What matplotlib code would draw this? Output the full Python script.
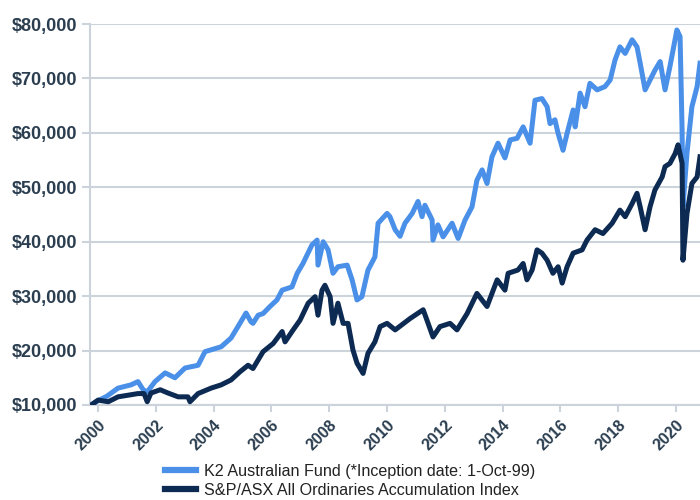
import matplotlib
matplotlib.use("Agg")
import matplotlib.pyplot as plt
from matplotlib.ticker import FuncFormatter

# K2 Australian Fund (decimal year, value $)
k2_years = [1999.75, 2000.00, 2000.30, 2000.69, 2001.14, 2001.38, 2001.56, 2001.70, 2001.97, 2002.32,
            2002.66, 2003.01, 2003.46, 2003.70, 2004.26, 2004.60, 2004.84, 2005.12, 2005.29, 2005.36,
            2005.54, 2005.71, 2005.95, 2006.19, 2006.37, 2006.71, 2006.89, 2007.09, 2007.40, 2007.58,
            2007.61, 2007.79, 2007.96, 2008.13, 2008.30, 2008.62, 2008.79, 2008.96, 2009.13, 2009.34,
            2009.58, 2009.69, 2010.00, 2010.10, 2010.28, 2010.45, 2010.62, 2010.87, 2011.07, 2011.21,
            2011.31, 2011.56, 2011.59, 2011.76, 2011.94, 2012.25, 2012.46, 2012.70, 2012.94, 2013.11,
            2013.29, 2013.46, 2013.63, 2013.84, 2014.08, 2014.26, 2014.50, 2014.71, 2014.95, 2015.12,
            2015.36, 2015.54, 2015.64, 2015.81, 2015.92, 2016.09, 2016.23, 2016.44, 2016.51, 2016.68,
            2016.85, 2017.02, 2017.27, 2017.54, 2017.72, 2017.89, 2018.06, 2018.24, 2018.48, 2018.65,
            2018.76, 2018.93, 2019.10, 2019.27, 2019.45, 2019.62, 2019.79, 2020.03, 2020.14, 2020.21,
            2020.24, 2020.38, 2020.55, 2020.73, 2020.83]
k2_values = [10000, 10800, 11600, 13100, 13700, 14300, 12800, 12400, 14300, 15900,
             15000, 16800, 17300, 19800, 20700, 22300, 24400, 26900, 25300, 25000,
             26500, 26800, 28100, 29300, 31100, 31700, 34200, 36000, 39400, 40300,
             35700, 40000, 38500, 34200, 35400, 35700, 33000, 29300, 29900, 34800,
             37200, 43400, 45200, 44600, 42200, 41000, 43400, 45200, 47400, 44600,
             46700, 44000, 40300, 43100, 40900, 43400, 40600, 44000, 46400, 51300,
             53200, 50700, 55600, 58100, 55400, 58700, 59000, 61100, 58100, 66000,
             66300, 64800, 61700, 62400, 59900, 56800, 59900, 64200, 61100, 67300,
             64800, 69100, 67900, 68500, 69700, 73400, 75800, 74600, 77100, 75800,
             72800, 67900, 69700, 71500, 73100, 67900, 72200, 78900, 77700, 60500,
             46400, 56300, 64800, 68500, 72800]

# S&P/ASX All Ordinaries Accumulation Index
ix_years = [1999.76, 2000.00, 2000.35, 2000.69, 2001.04, 2001.38, 2001.59, 2001.70, 2001.83, 2002.15,
            2002.42, 2002.77, 2003.11, 2003.18, 2003.46, 2003.91, 2004.26, 2004.60, 2004.91, 2005.19,
            2005.36, 2005.54, 2005.71, 2006.06, 2006.37, 2006.47, 2006.75, 2006.99, 2007.27, 2007.51,
            2007.61, 2007.75, 2007.85, 2008.03, 2008.13, 2008.30, 2008.48, 2008.65, 2008.82, 2008.96,
            2009.17, 2009.34, 2009.58, 2009.76, 2010.00, 2010.28, 2010.80, 2011.25, 2011.38, 2011.59,
            2011.83, 2012.18, 2012.42, 2012.77, 2013.11, 2013.46, 2013.81, 2014.08, 2014.19, 2014.53,
            2014.71, 2014.84, 2015.02, 2015.19, 2015.36, 2015.54, 2015.74, 2015.92, 2016.06, 2016.23,
            2016.44, 2016.75, 2016.92, 2017.20, 2017.47, 2017.79, 2018.06, 2018.24, 2018.48, 2018.65,
            2018.76, 2018.93, 2019.10, 2019.27, 2019.52, 2019.62, 2019.79, 2019.97, 2020.07, 2020.21,
            2020.24, 2020.38, 2020.55, 2020.73, 2020.83]
ix_values = [10000, 10900, 10600, 11500, 11800, 12100, 12100, 10600, 12200, 12800,
             12200, 11500, 11500, 10600, 12100, 13100, 13700, 14600, 16100, 17300,
             16700, 18300, 19800, 21300, 23500, 21600, 23800, 25600, 28700, 29900,
             26500, 31100, 32000, 29900, 25000, 28700, 25000, 25000, 20100, 17700,
             15800, 19500, 21600, 24400, 25000, 23800, 25900, 27500, 25600, 22500,
             24400, 25000, 23800, 26800, 30500, 28100, 33000, 31100, 34200, 34800,
             36000, 33000, 34800, 38500, 37900, 36600, 34200, 35400, 32400, 35400,
             37900, 38500, 40300, 42200, 41500, 43400, 45800, 44600, 47000, 48900,
             46400, 42200, 46400, 49500, 51900, 53800, 54400, 56200, 57800, 54400,
             36600, 45200, 50700, 51900, 55600]

x_ticks = list(range(2000, 2021, 2))
y_ticks = list(range(10000, 80001, 10000))

BLUE = "#4a90e8"
NAVY = "#0c2a52"
TEXT = "#2b3e50"
GRID = "#ccd3da"

plt.rcParams['font.family'] = ['Liberation Sans', 'DejaVu Sans']

fig = plt.figure(figsize=(7, 5), dpi=100)
ax = fig.add_axes([90 / 700, 1 - 405 / 500, 1 - 90 / 700, (405 - 24) / 500])

ax.plot(k2_years, k2_values, color=BLUE, lw=3.6, solid_joinstyle='round',
        label="K2 Australian Fund (*Inception date: 1-Oct-99)", zorder=3)
ax.plot(ix_years, ix_values, color=NAVY, lw=3.6, solid_joinstyle='round',
        label="S&P/ASX All Ordinaries Accumulation Index", zorder=4)

ax.set_xlim(1999.72, 2020.83)
ax.set_ylim(10000, 80000)
ax.set_yticks(y_ticks)
ax.set_xticks(x_ticks)
ax.yaxis.set_major_formatter(FuncFormatter(lambda v, p: f"${int(v):,}"))
ax.grid(axis='y', color=GRID, lw=1.5, zorder=0)
for s in ['top', 'right']:
    ax.spines[s].set_visible(False)
for s in ['left', 'bottom']:
    ax.spines[s].set_color(GRID)
    ax.spines[s].set_linewidth(1.5)
ax.tick_params(axis='y', colors=GRID, length=6, width=1.5, pad=3)
ax.tick_params(axis='x', colors=GRID, length=5, width=1.5, pad=4)
for lab in ax.get_yticklabels():
    lab.set_color(TEXT)
    lab.set_fontsize(13)
    lab.set_fontweight('bold')
for lab in ax.get_xticklabels():
    lab.set_color(TEXT)
    lab.set_fontsize(11.5)
    lab.set_fontweight('bold')
    lab.set_rotation(45)
    lab.set_ha('right')
    lab.set_va('top')
    lab.set_rotation_mode('anchor')

leg = fig.legend(loc='upper left', bbox_to_anchor=(165 / 700, 1 - 464 / 500),
                 frameon=False, fontsize=11.6, handlelength=1.9, handletextpad=0.5,
                 labelspacing=0.22, borderpad=0, borderaxespad=0)
for t in leg.get_texts():
    t.set_color('#222222')
for h in leg.get_lines():
    h.set_linewidth(4.5)

fig.savefig("out.png", dpi=100)
